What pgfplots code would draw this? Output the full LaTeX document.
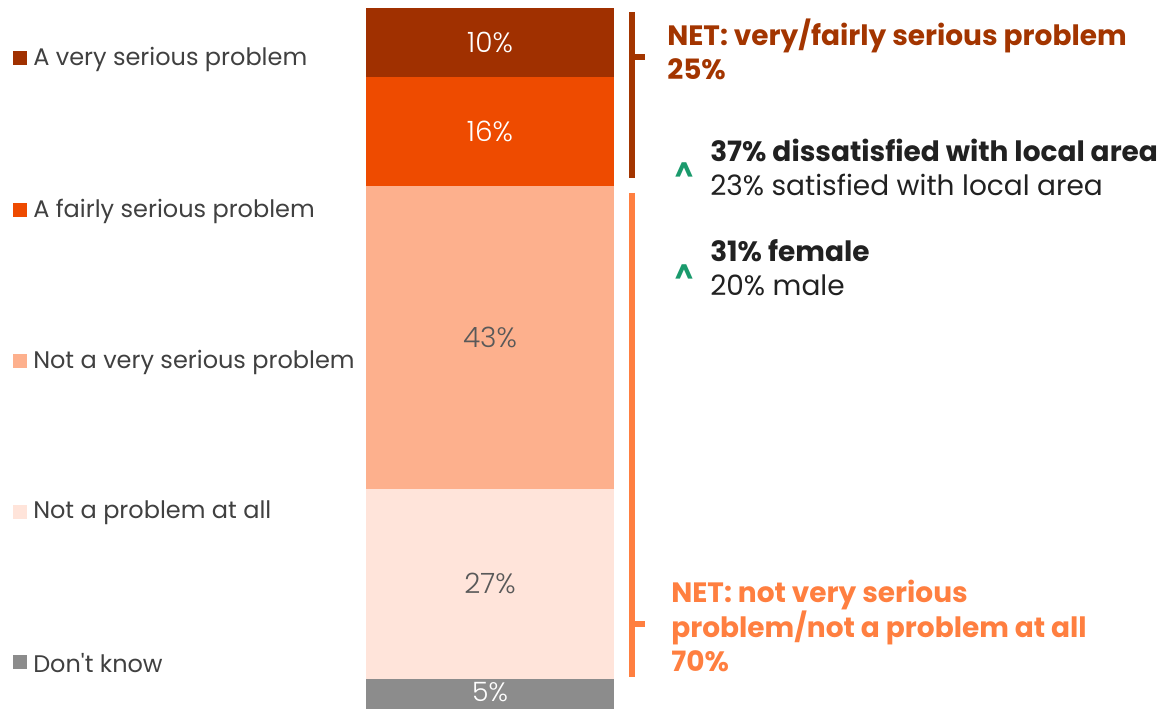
\documentclass[border=0pt]{standalone}
\usepackage{fontspec}
\setmainfont{Poppins}
\IfFontExistsTF{Poppins Light}{\newfontfamily\lightfont{Poppins Light}}{\newcommand\lightfont{\normalfont}}
\usepackage{pgfplots}
\pgfplotsset{compat=1.18}
\definecolor{cdark}{HTML}{A03000}
\definecolor{corange}{HTML}{EE4B00}
\definecolor{csalmon}{HTML}{FDB08D}
\definecolor{clight}{HTML}{FFE4DA}
\definecolor{cgray}{HTML}{8C8C8C}
\definecolor{cnet}{HTML}{FF7F40}
\definecolor{cnetdark}{HTML}{A33500}
\definecolor{cgreen}{HTML}{1A9A6C}
\definecolor{ctext}{HTML}{404040}
\definecolor{clabel}{HTML}{595959}
\begin{document}
\begin{tikzpicture}
\path[use as bounding box] (0,0) rectangle (877.5pt,-531.75pt);
\begin{axis}[
  at={(274.5pt,-6pt)}, anchor=north west,
  width=186pt, height=525.75pt, scale only axis,
  xmin=-0.5, xmax=0.5, ymin=0, ymax=100,
  axis lines=none, xtick=\empty, ytick=\empty,
  ybar stacked, bar width=186pt,
  point meta=explicit symbolic,
  nodes near coords,
  every node near coord/.append style={anchor=center, font=\fontsize{21}{24}\selectfont\lightfont},
]
\addplot[fill=cgray, draw=none, every node near coord/.append style={text=white, yshift=1.5pt, font=\fontsize{20}{22}\selectfont\lightfont}] coordinates {(0,4.3) [5\%]};
\addplot[fill=clight, draw=none, every node near coord/.append style={text=clabel}] coordinates {(0,27.1) [27\%]};
\addplot[fill=csalmon, draw=none, every node near coord/.append style={text=clabel}] coordinates {(0,43.2) [43\%]};
\addplot[fill=corange, draw=none, every node near coord/.append style={text=white}] coordinates {(0,15.6) [16\%]};
\addplot[fill=cdark, draw=none, every node near coord/.append style={text=white}] coordinates {(0,9.8) [10\%]};
\end{axis}
\begin{scope}[x=0.75pt,y=-0.75pt]
% legend
\foreach \yy/\cc/\tt in {58/cdark/A very serious problem, 210/corange/A fairly serious problem, 361/csalmon/Not a very serious problem, 512/clight/Not a problem at all, 662/cgray/Don\textquotesingle t know}{
  \fill[\cc] (13,\yy-7) rectangle (27,\yy+7);
  \node[anchor=west, inner sep=0pt, text=ctext, font=\fontsize{18}{20}\selectfont] at (33,\yy+1) {\tt};
}
% brackets
\draw[cnetdark, line width=4.5pt] (632,12) -- (632,178);
\draw[cnetdark, line width=4.5pt] (632,57) -- (645,57);
\draw[cnet, line width=4.5pt] (632,193) -- (632,677);
\draw[cnet, line width=4.5pt] (632,624) -- (645,624);
% NET texts
\node[anchor=west, inner sep=0pt, text=cnetdark, font=\fontsize{21}{25.5}\selectfont\bfseries, align=left] at (667,49) {NET: very/fairly serious problem\\25\%};
\node[anchor=west, inner sep=0pt, text=cnet, font=\fontsize{21}{25.5}\selectfont\bfseries, align=left] at (671,626) {NET: not very serious\\problem/not a problem at all\\70\%};
% comparisons
\node[anchor=west, inner sep=0pt, text=black!87, font=\fontsize{21}{25.5}\selectfont, align=left] at (710,167) {\textbf{37\% dissatisfied with local area}\\23\% satisfied with local area};
\node[anchor=west, inner sep=0pt, text=black!87, font=\fontsize{21}{25.5}\selectfont, align=left] at (710,268) {\textbf{31\% female}\\20\% male};
\node[text=cgreen, font=\fontsize{20}{22}\selectfont\bfseries, inner sep=0pt] at (684,172) {\textasciicircum};
\node[text=cgreen, font=\fontsize{20}{22}\selectfont\bfseries, inner sep=0pt] at (684,274) {\textasciicircum};
\end{scope}
\end{tikzpicture}
\end{document}
